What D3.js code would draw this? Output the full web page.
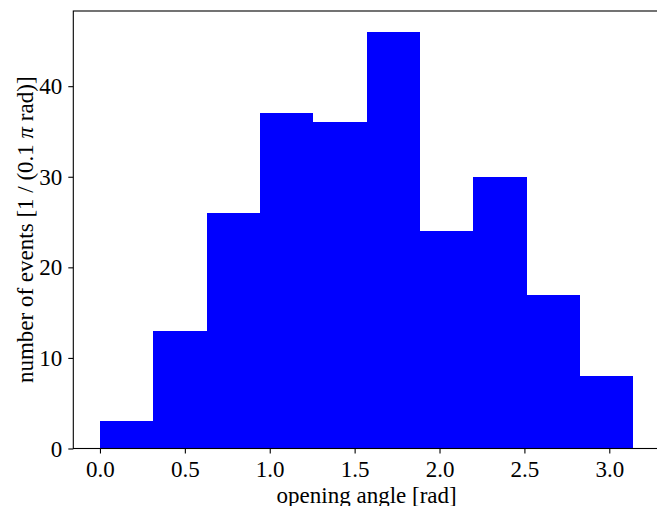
<!DOCTYPE html>
<html>
<head>
<meta charset="utf-8">
<script src="https://cdn.jsdelivr.net/npm/d3@7"></script>
<style>
  body { margin: 0; background: #fff; }
</style>
</head>
<body>
<svg id="chart" width="657" height="506"></svg>
<script>
// histogram of opening angles, 10 bins of width 0.1 pi
const binCounts = [3, 13, 26, 37, 36, 46, 24, 30, 17, 8];
const binEdges = [0, 0.1, 0.2, 0.3, 0.4, 0.5, 0.6, 0.7, 0.8, 0.9, 1.0].map(f => f * Math.PI);
const xTicks = [0.0, 0.5, 1.0, 1.5, 2.0, 2.5, 3.0];
const yTicks = [0, 10, 20, 30, 40];

const plotLeft = 73.3, plotRight = 660, plotTop = 11, plotBottom = 448.5;
const serif = "'Liberation Serif', 'Times New Roman', 'DejaVu Serif', serif";

const svg = d3.select("#chart");

// matplotlib style 5% margins on x, 5% headroom on y
const xPad = 0.05 * Math.PI;
const x = d3.scaleLinear().domain([-xPad, Math.PI + xPad]).range([plotLeft, plotRight]);
const y = d3.scaleLinear().domain([0, d3.max(binCounts) * 1.05]).range([plotBottom, plotTop]);

const bins = binCounts.map((c, i) => ({x0: binEdges[i], x1: binEdges[i + 1], n: c}));

svg.append("g")
  .selectAll("rect")
  .data(bins)
  .join("rect")
    .attr("x", d => x(d.x0))
    .attr("y", d => y(d.n))
    .attr("width", d => x(d.x1) - x(d.x0))
    .attr("height", d => y(0) - y(d.n))
    .attr("fill", "#0000ff")
    .attr("shape-rendering", "crispEdges");

const xAxis = svg.append("g")
  .attr("transform", `translate(0,${plotBottom})`)
  .call(d3.axisBottom(x).tickValues(xTicks).tickFormat(d3.format(".1f")).tickSizeOuter(0).tickSize(5).tickPadding(7));

const yAxis = svg.append("g")
  .attr("transform", `translate(${plotLeft},0)`)
  .call(d3.axisLeft(y).tickValues(yTicks).tickFormat(d3.format("d")).tickSizeOuter(0).tickSize(5).tickPadding(6));

[xAxis, yAxis].forEach(a => {
  a.attr("font-family", serif).attr("font-size", 23);
  a.selectAll("text").attr("fill", "#000");
  a.selectAll("line").attr("stroke", "#000").attr("stroke-width", 1.1);
  a.select(".domain").remove();
});
yAxis.selectAll("text").attr("dy", "0.33em");

// spines
svg.append("rect")
  .attr("x", plotLeft).attr("y", plotTop)
  .attr("width", plotRight - plotLeft).attr("height", plotBottom - plotTop)
  .attr("fill", "none").attr("stroke", "#000").attr("stroke-width", 1.1);

svg.append("text")
  .attr("x", (plotLeft + plotRight) / 2).attr("y", 503)
  .attr("text-anchor", "middle")
  .attr("font-family", serif).attr("font-size", 23)
  .text("opening angle [rad]");

const ylab = svg.append("text")
  .attr("transform", `translate(33,${(plotTop + plotBottom) / 2}) rotate(-90)`)
  .attr("text-anchor", "middle")
  .attr("font-family", serif).attr("font-size", 23);
ylab.append("tspan").text("number of events [1 / (0.1 ");
ylab.append("tspan").attr("font-style", "italic").text("π");
ylab.append("tspan").text(" rad)]");
</script>
</body>
</html>
